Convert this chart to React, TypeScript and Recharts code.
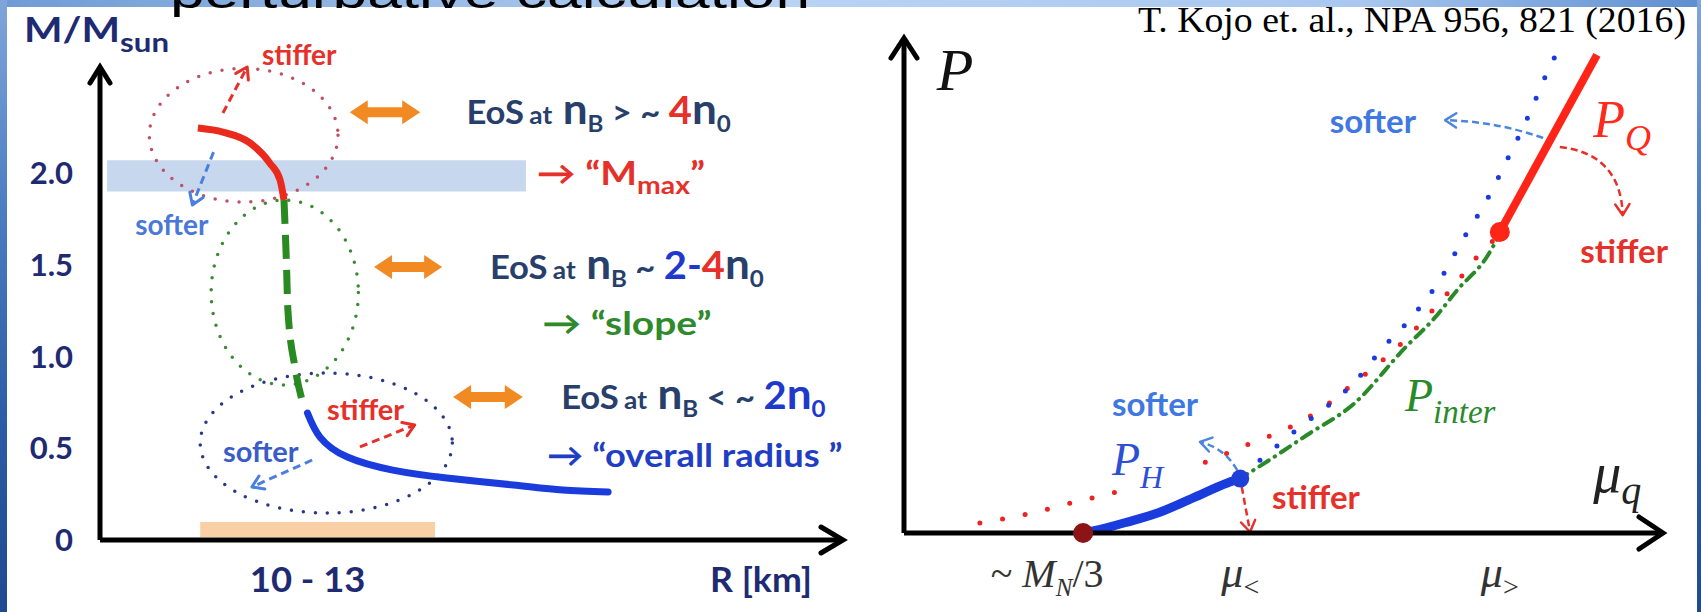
import React from "react";
import {
  LineChart,
  Line,
  XAxis,
  YAxis,
  ReferenceArea,
  ReferenceLine,
  ReferenceDot,
} from "recharts";

// ── Fonts & colours ──────────────────────────────────────────────────────────

const SANS = "Lato, 'Open Sans', 'DejaVu Sans', sans-serif";
const SERIF = "'Liberation Serif', 'DejaVu Serif', serif";
const NAVY = "#1e2a72";
const SLATE = "#283f6b";
const RED = "#e6302a";
const BLUE = "#1a3cdc";
const SOFT_BLUE = "#3f78e0";
const GREEN = "#2f8a2c";
const ORANGE = "#f28a24";

// ── Left panel: mass–radius (x = R [km], y = M/Msun) ─────────────────────────

const R_DOMAIN = [8.72, 18.21];
const M_DOMAIN = [0, 2.578];
const M_TICKS = [0, 0.5, 1, 1.5, 2];
const R_TICKS = [11.5];
const R_TICK_LABELS = ["10 - 13"];

const MR_HIGH = [
  { r: 9.97, m: 2.245 },
  { r: 10.29, m: 2.223 },
  { r: 10.64, m: 2.163 },
  { r: 10.89, m: 2.054 },
  { r: 11.02, m: 1.962 },
  { r: 11.07, m: 1.853 },
];
const MR_MID = [
  { r: 11.07, m: 1.853 },
  { r: 11.1, m: 1.526 },
  { r: 11.12, m: 1.253 },
  { r: 11.21, m: 0.943 },
  { r: 11.3, m: 0.763 },
];
const MR_LOW = [
  { r: 11.37, m: 0.692 },
  { r: 11.53, m: 0.561 },
  { r: 11.88, m: 0.452 },
  { r: 12.46, m: 0.381 },
  { r: 13.15, m: 0.338 },
  { r: 14.0, m: 0.3 },
  { r: 14.63, m: 0.272 },
  { r: 15.21, m: 0.262 },
];

const MMAX_BAND_R = [8.81, 14.16];
const MMAX_BAND_M = [1.9, 2.07];
const RADIUS_BAND_R = [10, 13];
const RADIUS_BAND_M = [0.016, 0.098];

// [r1, r2, m1, m2] for the dotted circles: high / mid / low density
const MR_CIRCLES = [
  [9.35, 11.76, 1.842, 2.57],
  [10.14, 12.02, 0.845, 1.853],
  [10.0, 13.22, 0.147, 0.91],
];

// [[r, m] from, [r, m] to]: stiffer / softer (top), stiffer / softer (bottom)
const MR_ARROWS = [
  [[10.29, 2.327], [10.6, 2.578]],
  [[10.17, 2.114], [9.9, 1.826]],
  [[12.04, 0.507], [12.74, 0.627]],
  [[11.43, 0.436], [10.66, 0.289]],
];
// [r1, r2, m] for the orange double arrows
const MR_LINKS = [
  [11.91, 12.81, 2.332],
  [12.22, 13.09, 1.488],
  [13.23, 14.12, 0.779],
];

const MR_NOTE_STIFFER_TOP = [10.79, 2.643];
const MR_NOTE_SOFTER_TOP = [9.17, 1.717];
const MR_NOTE_EOS_HIGH = [13.4, 2.332];
const MR_NOTE_MMAX = [14.3, 2.0];
const MR_NOTE_EOS_MID = [13.7, 1.488];
const MR_NOTE_SLOPE = [14.37, 1.183];
const MR_NOTE_EOS_LOW = [14.61, 0.779];
const MR_NOTE_RADIUS = [14.43, 0.463];
const MR_NOTE_STIFFER_LOW = [11.62, 0.708];
const MR_NOTE_SOFTER_LOW = [10.29, 0.48];

// ── Right panel: pressure vs quark chemical potential ────────────────────────

const MU_DOMAIN = [0, 10];
const P_DOMAIN = [0, 10];
const MU_TICKS = [2.36, 4.43, 7.85];

const P_HADRON = [
  { mu: 2.36, p: 0 },
  { mu: 2.49, p: 0.04 },
  { mu: 2.94, p: 0.22 },
  { mu: 3.37, p: 0.42 },
  { mu: 3.81, p: 0.71 },
  { mu: 4.26, p: 1.01 },
  { mu: 4.43, p: 1.1 },
];
const P_STIFF = [
  { mu: 1.0, p: 0.2 },
  { mu: 1.62, p: 0.38 },
  { mu: 2.21, p: 0.61 },
  { mu: 2.81, p: 0.83 },
  { mu: 3.4, p: null },
  { mu: 3.97, p: 1.43 },
  { mu: 4.52, p: 1.78 },
  { mu: 5.09, p: 2.14 },
  { mu: 5.61, p: 2.63 },
  { mu: 5.85, p: 2.93 },
  { mu: 6.56, p: 3.84 },
  { mu: 6.97, p: 4.51 },
  { mu: 7.36, p: 5.21 },
  { mu: 7.55, p: 5.58 },
  { mu: 7.82, p: 5.98 },
];
const P_SOFT = [
  { mu: 4.69, p: 1.47 },
  { mu: 5.22, p: 2.14 },
  { mu: 5.65, p: 2.65 },
  { mu: 5.9, p: 2.99 },
  { mu: 6.31, p: 3.74 },
  { mu: 6.69, p: 4.36 },
  { mu: 7.06, p: 5.11 },
  { mu: 7.36, p: 5.92 },
  { mu: 7.68, p: 6.73 },
  { mu: 7.96, p: 7.58 },
  { mu: 8.22, p: 8.4 },
  { mu: 8.47, p: 9.29 },
  { mu: 8.6, p: 9.7 },
];
const P_INTER = [
  { mu: 4.4, p: 1.07 },
  { mu: 4.86, p: 1.52 },
  { mu: 5.31, p: 1.98 },
  { mu: 5.92, p: 2.6 },
  { mu: 6.6, p: 3.74 },
  { mu: 7.0, p: 4.36 },
  { mu: 7.29, p: 4.91 },
  { mu: 7.68, p: 5.58 },
  { mu: 7.82, p: 5.95 },
];
const P_QUARK = [
  { mu: 7.85, p: 6.08 },
  { mu: 9.13, p: 9.66 },
];
// matching points: M_N/3, mu_<, mu_>
const P_POINTS = [
  [2.36, 0],
  [4.43, 1.1],
  [7.85, 6.08],
];

// softer / stiffer at P_Q, softer / stiffer at P_H
const P_ARROWS = [
  [[8.42, 7.98], [7.13, 8.34]],
  [[8.64, 7.8], [9.47, 6.42]],
  [[4.39, 1.27], [3.9, 1.84]],
  [[4.45, 0.93], [4.56, 0.02]],
];

const P_NOTE_P = [0.43, 9.35];
const P_NOTE_PQ = [9.08, 8.34];
const P_NOTE_SOFTER_TOP = [5.61, 8.3];
const P_NOTE_STIFFER_TOP = [8.91, 5.68];
const P_NOTE_PINTER = [6.6, 2.75];
const P_NOTE_PH = [2.74, 1.47];
const P_NOTE_SOFTER_LOW = [2.74, 2.59];
const P_NOTE_STIFFER_LOW = [4.85, 0.71];
const P_NOTE_MUQ = [9.08, 1.07];

// ── Drawing helpers ──────────────────────────────────────────────────────────

const note = (key: string, at: number[], draw: (cx: number, cy: number) => React.ReactNode) => (
  <ReferenceDot
    key={key}
    x={at[0]}
    y={at[1]}
    r={0}
    ifOverflow="visible"
    shape={(p: any) => <g>{draw(p.cx, p.cy)}</g>}
  />
);

// slide text is a bit wider than Lato at the same height
const wide = (x: number, y: number, sx: number, node: React.ReactNode) => (
  <g transform={`translate(${x},${y}) scale(${sx},1)`}>{node}</g>
);

const chevron = (dir: "up" | "right", len: number, half: number) => (p: any) => {
  const { cx, cy } = p;
  const d =
    dir === "up"
      ? `M${cx - half},${cy + len} L${cx},${cy} L${cx + half},${cy + len}`
      : `M${cx - len},${cy - half} L${cx},${cy} L${cx - len},${cy + half}`;
  return <path d={d} fill="none" stroke="#000" strokeWidth={5} strokeLinecap="round" />;
};

const dashedArrow =
  (color: string, bend: number, width: number, dash: string, head: number) => (p: any) => {
    const { x1, y1, x2, y2 } = p;
    const dx = x2 - x1;
    const dy = y2 - y1;
    const len = Math.hypot(dx, dy) || 1;
    const qx = (x1 + x2) / 2 + (-dy / len) * bend;
    const qy = (y1 + y2) / 2 + (dx / len) * bend;
    const tx = x2 - qx;
    const ty = y2 - qy;
    const tl = Math.hypot(tx, ty) || 1;
    const ux = tx / tl;
    const uy = ty / tl;
    const bx = x2 - ux * head;
    const by = y2 - uy * head;
    const w = head * 0.65;
    return (
      <g>
        <path
          d={`M${x1},${y1} Q${qx},${qy} ${x2},${y2}`}
          fill="none"
          stroke={color}
          strokeWidth={width}
          strokeDasharray={dash}
        />
        <path
          d={`M${bx - uy * w},${by + ux * w} L${x2},${y2} L${bx + uy * w},${by - ux * w}`}
          fill="none"
          stroke={color}
          strokeWidth={width}
          strokeLinecap="round"
          strokeLinejoin="round"
        />
      </g>
    );
  };

const doubleArrow = (p: any) => {
  const { x1, y1, x2, y2 } = p;
  const dx = x2 - x1;
  const dy = y2 - y1;
  const len = Math.hypot(dx, dy) || 1;
  const ux = dx / len;
  const uy = dy / len;
  const px = -uy;
  const py = ux;
  const h = 18;
  const w = 12;
  const t = 5;
  const pt = (x: number, y: number) => `${x},${y}`;
  const pts = [
    pt(x1, y1),
    pt(x1 + ux * h + px * w, y1 + uy * h + py * w),
    pt(x1 + ux * h + px * t, y1 + uy * h + py * t),
    pt(x2 - ux * h + px * t, y2 - uy * h + py * t),
    pt(x2 - ux * h + px * w, y2 - uy * h + py * w),
    pt(x2, y2),
    pt(x2 - ux * h - px * w, y2 - uy * h - py * w),
    pt(x2 - ux * h - px * t, y2 - uy * h - py * t),
    pt(x1 + ux * h - px * t, y1 + uy * h - py * t),
    pt(x1 + ux * h - px * w, y1 + uy * h - py * w),
  ].join(" ");
  return <polygon points={pts} fill={ORANGE} />;
};

const dottedEllipse = (color: string) => (p: any) => (
  <ellipse
    cx={p.x + p.width / 2}
    cy={p.y + p.height / 2}
    rx={Math.abs(p.width) / 2}
    ry={Math.abs(p.height) / 2}
    fill="none"
    stroke={color}
    strokeWidth={3.5}
    strokeDasharray="0 12"
    strokeLinecap="round"
  />
);

const bold = { fontFamily: SANS, fontWeight: 700 } as const;

// ── Left chart ───────────────────────────────────────────────────────────────

const CIRCLE_COLORS = ["#c24f63", "#3a8a36", "#283888"];
const MR_ARROW_STYLES = [
  { color: RED, bend: 0 },
  { color: "#4a7fe0", bend: 0 },
  { color: RED, bend: 0 },
  { color: "#4a7fe0", bend: 0 },
];

const eosText = (x: number, y: number, rel: string, dens: React.ReactNode) =>
  wide(
    x,
    y + 12,
    1.05,
    <text x={0} y={0} fill={SLATE} fontSize={33} {...bold}>
      <tspan>EoS</tspan>
      <tspan dx={5} fontSize={25}>at</tspan>
      <tspan dx={10} fontSize={42}>n</tspan>
      <tspan fontSize={23} dy={8}>B</tspan>
      <tspan dx={8} dy={-8}>{rel}</tspan>
      {dens}
    </text>
  );

function MassRadiusChart() {
  return (
    <LineChart width={870} height={612} margin={{ top: 67, right: 27, bottom: 0, left: 0 }}>
      <XAxis
        type="number"
        dataKey="r"
        domain={R_DOMAIN}
        ticks={R_TICKS}
        allowDataOverflow
        height={72}
        axisLine={{ stroke: "#000", strokeWidth: 5 }}
        tickLine={false}
        tickSize={0}
        tickMargin={40}
        tick={(p: any) =>
          wide(
            p.x - 10,
            p.y + 12,
            1.07,
            <text x={0} y={0} textAnchor="middle" fill={NAVY} fontSize={34} {...bold}>
              {R_TICK_LABELS[R_TICKS.indexOf(p.payload.value)]}
            </text>
          )
        }
        label={(p: any) =>
          wide(
            p.viewBox.x + 610,
            p.viewBox.y + 52,
            1.05,
            <text x={0} y={0} fill={NAVY} fontSize={34} {...bold}>
              R [km]
            </text>
          )
        }
      />
      <YAxis
        type="number"
        domain={M_DOMAIN}
        ticks={M_TICKS}
        allowDataOverflow
        width={100}
        axisLine={{ stroke: "#000", strokeWidth: 5 }}
        tickLine={false}
        tickSize={0}
        tickMargin={27}
        tick={(p: any) => (
          <text x={p.x} y={p.y + 11} textAnchor="end" fill={NAVY} fontSize={31} {...bold}>
            {p.payload.value === 0 ? "0" : p.payload.value.toFixed(1)}
          </text>
        )}
        label={(p: any) =>
          wide(
            p.viewBox.x + 24,
            p.viewBox.y - 25,
            1.2,
            <text x={0} y={0} fill={NAVY} fontSize={34} {...bold}>
              M/M
              <tspan fontSize={26} dy={10}>
                sun
              </tspan>
            </text>
          )
        }
      />

      <ReferenceArea
        x1={MMAX_BAND_R[0]}
        x2={MMAX_BAND_R[1]}
        y1={MMAX_BAND_M[0]}
        y2={MMAX_BAND_M[1]}
        ifOverflow="visible"
        fill="#c7d7ee"
        fillOpacity={1}
        stroke="none"
      />
      <ReferenceArea
        x1={RADIUS_BAND_R[0]}
        x2={RADIUS_BAND_R[1]}
        y1={RADIUS_BAND_M[0]}
        y2={RADIUS_BAND_M[1]}
        ifOverflow="visible"
        fill="#f9cfa6"
        fillOpacity={1}
        stroke="none"
      />
      {MR_CIRCLES.map((c, i) => (
        <ReferenceArea
          key={`c${i}`}
          x1={c[0]}
          x2={c[1]}
          y1={c[2]}
          y2={c[3]}
          ifOverflow="visible"
          shape={dottedEllipse(CIRCLE_COLORS[i])}
        />
      ))}

      <Line data={MR_HIGH} dataKey="m" type="monotone" stroke="#ea2a1c" strokeWidth={7} dot={false} activeDot={false} isAnimationActive={false} />
      <Line data={MR_MID} dataKey="m" type="monotone" stroke="#2a8a22" strokeWidth={7} strokeDasharray="24 11" dot={false} activeDot={false} isAnimationActive={false} />
      <Line data={MR_LOW} dataKey="m" type="natural" stroke={BLUE} strokeWidth={7} strokeLinecap="round" dot={false} activeDot={false} isAnimationActive={false} />

      {MR_ARROWS.map((a, i) => (
        <ReferenceLine
          key={`a${i}`}
          segment={[
            { x: a[0][0], y: a[0][1] },
            { x: a[1][0], y: a[1][1] },
          ]}
          ifOverflow="visible"
          shape={dashedArrow(MR_ARROW_STYLES[i].color, MR_ARROW_STYLES[i].bend, 3, "8 5", 11)}
        />
      ))}
      {MR_LINKS.map((l, i) => (
        <ReferenceLine
          key={`l${i}`}
          segment={[
            { x: l[0], y: l[2] },
            { x: l[1], y: l[2] },
          ]}
          ifOverflow="visible"
          shape={doubleArrow}
        />
      ))}

      <ReferenceDot x={R_DOMAIN[0]} y={M_DOMAIN[1]} r={0} ifOverflow="visible" shape={chevron("up", 16, 10)} />
      <ReferenceDot x={R_DOMAIN[1]} y={0} r={0} ifOverflow="visible" shape={chevron("right", 22, 13)} />

      {note("st1", MR_NOTE_STIFFER_TOP, (x, y) => (
        <text x={x} y={y + 10} fill={RED} fontSize={28} {...bold}>stiffer</text>
      ))}
      {note("so1", MR_NOTE_SOFTER_TOP, (x, y) => (
        <text x={x} y={y + 10} fill="#4a78d8" fontSize={28} {...bold}>softer</text>
      ))}
      {note("st2", MR_NOTE_STIFFER_LOW, (x, y) => (
        <text x={x} y={y + 10} fill={RED} fontSize={29} {...bold}>stiffer</text>
      ))}
      {note("so2", MR_NOTE_SOFTER_LOW, (x, y) => (
        <text x={x} y={y + 10} fill="#3a5cc8" fontSize={29} {...bold}>softer</text>
      ))}
      {note("eh", MR_NOTE_EOS_HIGH, (x, y) =>
        eosText(x, y, "> ~", [
          <tspan key="a" dx={8} fontSize={38} fill={RED}>4</tspan>,
          <tspan key="b" fontSize={42}>n</tspan>,
          <tspan key="c" fontSize={23} dy={8}>0</tspan>,
        ])
      )}
      {note("em", MR_NOTE_EOS_MID, (x, y) =>
        eosText(x, y, "~", [
          <tspan key="a" dx={8} fontSize={38} fill="#2038cc">2-</tspan>,
          <tspan key="b" fontSize={38} fill={RED}>4</tspan>,
          <tspan key="c" fontSize={42}>n</tspan>,
          <tspan key="d" fontSize={23} dy={8}>0</tspan>,
        ])
      )}
      {note("el", MR_NOTE_EOS_LOW, (x, y) =>
        eosText(x, y, "< ~", [
          <tspan key="a" dx={8} fontSize={38} fill="#2038cc">2</tspan>,
          <tspan key="b" fontSize={42} fill="#2038cc">n</tspan>,
          <tspan key="c" fontSize={23} dy={8} fill="#2038cc">0</tspan>,
        ])
      )}
      {note("mm", MR_NOTE_MMAX, (x, y) =>
        wide(
          x,
          y + 12,
          1.18,
          <text x={0} y={0} fill={RED} fontSize={33} {...bold}>
            <tspan>→ “M</tspan>
            <tspan fontSize={24} dy={9}>max</tspan>
            <tspan dy={-9}>”</tspan>
          </text>
        )
      )}
      {note("sl", MR_NOTE_SLOPE, (x, y) =>
        wide(
          x,
          y + 12,
          1.18,
          <text x={0} y={0} fill={GREEN} fontSize={33} {...bold}>
            → “slope”
          </text>
        )
      )}
      {note("ra", MR_NOTE_RADIUS, (x, y) =>
        wide(
          x,
          y + 12,
          1.1,
          <text x={0} y={0} fill="#1f3ec4" fontSize={33} {...bold}>
            → “overall radius ”
          </text>
        )
      )}
    </LineChart>
  );
}

// ── Right chart ──────────────────────────────────────────────────────────────

const P_ARROW_STYLES = [
  { color: "#4a86e0", bend: 8 },
  { color: RED, bend: -40 },
  { color: "#4a86e0", bend: 10 },
  { color: RED, bend: 0 },
];
const P_POINT_STYLES = [
  { fill: "#8c1414", r: 10 },
  { fill: "#1f40d8", r: 9 },
  { fill: "#ff2418", r: 10 },
];

const muTick = (p: any) => {
  const i = MU_TICKS.indexOf(p.payload.value);
  const y = p.y + 7;
  if (i === 0) {
    return (
      <text x={p.x - 36} y={y} textAnchor="middle" fontFamily={SERIF} fontSize={40} fill="#333">
        <tspan>~ </tspan>
        <tspan fontStyle="italic">M</tspan>
        <tspan fontStyle="italic" fontSize={25} dy={9}>N</tspan>
        <tspan dy={-9}>/3</tspan>
      </text>
    );
  }
  return (
    <text x={p.x} y={y} textAnchor="middle" fontFamily={SERIF} fontSize={44} fill="#333">
      <tspan fontStyle="italic">μ</tspan>
      <tspan fontSize={28} dy={9}>{i === 1 ? "<" : ">"}</tspan>
    </text>
  );
};

function PressureChart() {
  return (
    <LineChart width={831} height={612} margin={{ top: 38, right: 38, bottom: 0, left: 0 }}>
      <XAxis
        type="number"
        dataKey="mu"
        domain={MU_DOMAIN}
        ticks={MU_TICKS}
        allowDataOverflow
        height={79}
        axisLine={{ stroke: "#000", strokeWidth: 5 }}
        tickLine={false}
        tickSize={0}
        tickMargin={47}
        tick={muTick}
      />
      <YAxis
        type="number"
        domain={P_DOMAIN}
        allowDataOverflow
        width={34}
        axisLine={{ stroke: "#000", strokeWidth: 5 }}
        tickLine={false}
        tick={false}
      />

      <Line data={P_STIFF} dataKey="p" type="monotone" stroke="#ee2222" strokeWidth={5} strokeDasharray="0 23" strokeLinecap="round" dot={false} activeDot={false} isAnimationActive={false} />
      <Line data={P_SOFT} dataKey="p" type="monotone" stroke="#1a3ae0" strokeWidth={5} strokeDasharray="0 22" strokeLinecap="round" dot={false} activeDot={false} isAnimationActive={false} />
      <Line data={P_INTER} dataKey="p" type="monotone" stroke="#2a8a2a" strokeWidth={4} strokeDasharray="11 7 0.5 7" strokeLinecap="round" dot={false} activeDot={false} isAnimationActive={false} />
      <Line data={P_HADRON} dataKey="p" type="monotone" stroke={BLUE} strokeWidth={9} strokeLinecap="round" dot={false} activeDot={false} isAnimationActive={false} />
      <Line data={P_QUARK} dataKey="p" type="linear" stroke="#ff2418" strokeWidth={8} dot={false} activeDot={false} isAnimationActive={false} />

      {P_POINTS.map((pt, i) => (
        <ReferenceDot
          key={`pt${i}`}
          x={pt[0]}
          y={pt[1]}
          r={P_POINT_STYLES[i].r}
          fill={P_POINT_STYLES[i].fill}
          stroke="none"
          ifOverflow="visible"
        />
      ))}

      {P_ARROWS.map((a, i) => (
        <ReferenceLine
          key={`pa${i}`}
          segment={[
            { x: a[0][0], y: a[0][1] },
            { x: a[1][0], y: a[1][1] },
          ]}
          ifOverflow="visible"
          shape={dashedArrow(P_ARROW_STYLES[i].color, P_ARROW_STYLES[i].bend, 2.5, "7 4", 11)}
        />
      ))}

      <ReferenceDot x={MU_DOMAIN[0]} y={P_DOMAIN[1]} r={0} ifOverflow="visible" shape={chevron("up", 20, 13)} />
      <ReferenceDot x={MU_DOMAIN[1]} y={0} r={0} ifOverflow="visible" shape={chevron("right", 24, 16)} />

      {note("P", P_NOTE_P, (x, y) => (
        <text x={x} y={y + 20} fontFamily={SERIF} fontStyle="italic" fontSize={60} fill="#111">P</text>
      ))}
      {note("PQ", P_NOTE_PQ, (x, y) => (
        <text x={x} y={y + 17} fontFamily={SERIF} fontStyle="italic" fontSize={52} fill="#ff2a1a">
          <tspan>P</tspan>
          <tspan fontSize={36} dy={13}>Q</tspan>
        </text>
      ))}
      {note("Pi", P_NOTE_PINTER, (x, y) => (
        <text x={x} y={y + 14} fontFamily={SERIF} fontStyle="italic" fontSize={46} fill="#2a8a2a">
          <tspan>P</tspan>
          <tspan fontSize={33} dy={12}>inter</tspan>
        </text>
      ))}
      {note("PH", P_NOTE_PH, (x, y) => (
        <text x={x} y={y + 15} fontFamily={SERIF} fontStyle="italic" fontSize={46} fill="#2c4fd4">
          <tspan>P</tspan>
          <tspan fontSize={32} dy={13}>H</tspan>
        </text>
      ))}
      {note("mq", P_NOTE_MUQ, (x, y) => (
        <text x={x} y={y + 12} fontFamily={SERIF} fontStyle="italic" fontSize={56} fill="#222">
          <tspan>μ</tspan>
          <tspan fontSize={40} dy={12}>q</tspan>
        </text>
      ))}
      {note("so3", P_NOTE_SOFTER_TOP, (x, y) => (
        <text x={x} y={y + 11} fill={SOFT_BLUE} fontSize={33} {...bold}>softer</text>
      ))}
      {note("st3", P_NOTE_STIFFER_TOP, (x, y) => (
        <text x={x} y={y + 11} fill={RED} fontSize={33} {...bold}>stiffer</text>
      ))}
      {note("so4", P_NOTE_SOFTER_LOW, (x, y) => (
        <text x={x} y={y + 11} fill={SOFT_BLUE} fontSize={33} {...bold}>softer</text>
      ))}
      {note("st4", P_NOTE_STIFFER_LOW, (x, y) => (
        <text x={x} y={y + 11} fill={RED} fontSize={33} {...bold}>stiffer</text>
      ))}
    </LineChart>
  );
}

// ── Slide frame ──────────────────────────────────────────────────────────────

function Frame() {
  return (
    <svg
      width={1701}
      height={612}
      style={{ position: "absolute", left: 0, top: 0, pointerEvents: "none" }}
    >
      <defs>
        <linearGradient id="topStrip" x1="0" x2="1" y1="0" y2="0">
          <stop offset="0" stopColor="#6f9bd4" />
          <stop offset="0.45" stopColor="#b9d3f4" />
          <stop offset="0.8" stopColor="#a9c7ef" />
          <stop offset="1" stopColor="#5d8ed0" />
        </linearGradient>
        <linearGradient id="sideStrip" x1="0" x2="0" y1="0" y2="1">
          <stop offset="0" stopColor="#7fa6da" />
          <stop offset="0.35" stopColor="#4a7cc0" />
          <stop offset="0.7" stopColor="#2b5ba3" />
          <stop offset="1" stopColor="#1e4a90" />
        </linearGradient>
      </defs>
      <rect x={0} y={0} width={1701} height={7} fill="url(#topStrip)" />
      <rect x={0} y={0} width={7} height={612} fill="url(#sideStrip)" />
      <rect x={1697} y={0} width={4} height={612} fill="url(#sideStrip)" />
      <text
        x={170}
        y={8}
        fontFamily="'Liberation Sans', Arial, sans-serif"
        fontSize={44}
        fill="#000"
        textLength={640}
        lengthAdjust="spacingAndGlyphs"
      >
        perturbative calculation
      </text>
      <text
        x={1138}
        y={32}
        fontFamily={SERIF}
        fontSize={36}
        fill="#000"
        textLength={548}
        lengthAdjust="spacingAndGlyphs"
      >
        T. Kojo et. al.,  NPA 956, 821 (2016)
      </text>
    </svg>
  );
}

export default function App() {
  return (
    <div
      style={{
        position: "fixed",
        left: 0,
        top: 0,
        width: 1701,
        height: 612,
        background: "#fff",
        overflow: "hidden",
      }}
    >
      <div style={{ position: "absolute", left: 0, top: 0 }}>
        <MassRadiusChart />
      </div>
      <div style={{ position: "absolute", left: 870, top: 0 }}>
        <PressureChart />
      </div>
      <Frame />
    </div>
  );
}
